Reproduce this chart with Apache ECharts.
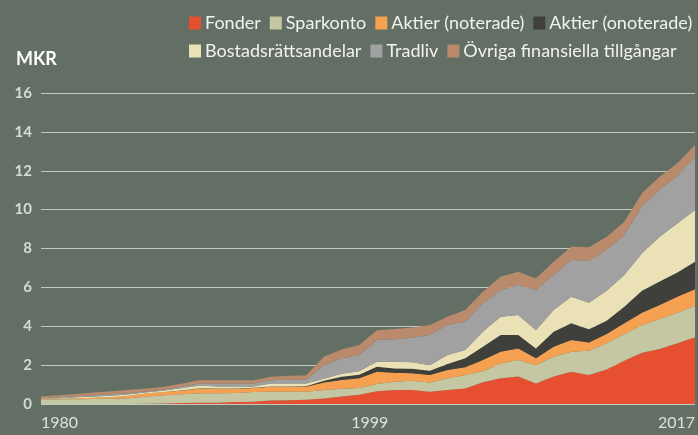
<!DOCTYPE html>
<html>
<head>
<meta charset="utf-8">
<script src="https://cdn.jsdelivr.net/npm/echarts@6/dist/echarts.min.js"></script>
<style>
  html, body { margin: 0; padding: 0; background: #636f64; }
  #chart { width: 698px; height: 435px; }
</style>
</head>
<body>
<div id="chart"></div>
<script>
// years 1980 - 2017
var years = [];
for (var y = 1980; y <= 2017; y++) years.push(String(y));
var labelYears = ['1980', '1999', '2017'];

// MKR, per category (stacked)
var fonder = [0, 0, 0, 0, 0, 0, 0.01, 0.03, 0.05, 0.07, 0.07, 0.10, 0.11, 0.18, 0.19, 0.22, 0.28, 0.38, 0.48, 0.65,
  0.72, 0.72, 0.63, 0.72, 0.80, 1.12, 1.32, 1.41, 1.06, 1.41, 1.66, 1.49, 1.78, 2.23, 2.64, 2.83, 3.12, 3.43];
var sparkonto = [0.22, 0.24, 0.25, 0.26, 0.27, 0.30, 0.37, 0.42, 0.45, 0.48, 0.48, 0.47, 0.51, 0.45, 0.44, 0.41, 0.44, 0.40, 0.34, 0.38,
  0.43, 0.48, 0.48, 0.60, 0.69, 0.56, 0.77, 0.85, 0.94, 1.02, 1.03, 1.25, 1.34, 1.37, 1.42, 1.54, 1.58, 1.61];
var aktierNot = [0.03, 0.03, 0.05, 0.06, 0.08, 0.12, 0.17, 0.17, 0.20, 0.25, 0.24, 0.22, 0.20, 0.26, 0.26, 0.26, 0.38, 0.45, 0.51, 0.63,
  0.46, 0.38, 0.38, 0.43, 0.40, 0.58, 0.60, 0.60, 0.35, 0.52, 0.60, 0.43, 0.48, 0.55, 0.64, 0.72, 0.82, 0.86];
var aktierOnot = [0, 0, 0, 0, 0, 0, 0, 0, 0.01, 0.01, 0.01, 0.01, 0.01, 0.01, 0.01, 0.02, 0.10, 0.17, 0.17, 0.26,
  0.22, 0.23, 0.22, 0.31, 0.46, 0.69, 0.86, 0.69, 0.51, 0.77, 0.86, 0.67, 0.68, 0.85, 1.13, 1.21, 1.24, 1.42];
var bostad = [0.03, 0.03, 0.05, 0.06, 0.07, 0.08, 0.05, 0.08, 0.11, 0.14, 0.10, 0.10, 0.07, 0.15, 0.15, 0.14, 0.10, 0.15, 0.18, 0.26,
  0.35, 0.34, 0.29, 0.46, 0.43, 0.77, 0.94, 1.03, 0.94, 1.12, 1.37, 1.37, 1.55, 1.64, 1.92, 2.30, 2.53, 2.66];
var tradliv = [0.02, 0.05, 0.05, 0.07, 0.08, 0.06, 0.04, 0.05, 0.08, 0.10, 0.15, 0.15, 0.15, 0.17, 0.20, 0.20, 0.70, 0.80, 0.84, 1.11,
  1.15, 1.26, 1.55, 1.54, 1.45, 1.46, 1.37, 1.54, 2.06, 1.80, 1.89, 2.16, 2.10, 2.06, 2.41, 2.44, 2.47, 2.74];
var ovriga = [0.08, 0.10, 0.12, 0.14, 0.16, 0.17, 0.16, 0.14, 0.15, 0.18, 0.17, 0.17, 0.17, 0.18, 0.20, 0.22, 0.43, 0.45, 0.51, 0.51,
  0.53, 0.52, 0.51, 0.43, 0.61, 0.60, 0.69, 0.68, 0.60, 0.68, 0.68, 0.69, 0.68, 0.68, 0.68, 0.65, 0.62, 0.60];

var names = ['Fonder', 'Sparkonto', 'Aktier (noterade)', 'Aktier (onoterade)', 'Bostadsrättsandelar', 'Tradliv', 'Övriga finansiella tillgångar'];
var values = [fonder, sparkonto, aktierNot, aktierOnot, bostad, tradliv, ovriga];
var colors = ['#e65031', '#c4c7a2', '#f6a052', '#3f403c', '#ebe1b6', '#a0a1a0', '#b98a6b'];

var chart = echarts.init(document.getElementById('chart'));

var series = names.map(function (n, i) {
  return {
    name: n,
    type: 'line',
    stack: 'total',
    data: values[i],
    symbol: 'none',
    lineStyle: { width: 0 },
    areaStyle: { color: colors[i], opacity: 1 },
    itemStyle: { color: colors[i] }
  };
});

var legendBase = {
  left: 184,
  itemWidth: 12,
  itemHeight: 13,
  itemGap: 9,
  icon: 'rect',
  textStyle: { color: '#f2f2ee', fontSize: 18, fontFamily: 'Lato', padding: [0, 0, 0, -1] }
};

var option = {
  backgroundColor: '#636f64',
  animation: false,
  title: {
    text: 'MKR',
    left: 11,
    top: 45,
    textStyle: { color: '#ffffff', fontSize: 18, fontWeight: 'bold', fontFamily: 'Lato' }
  },
  legend: [
    Object.assign({}, legendBase, { top: 9, data: names.slice(0, 4) }),
    Object.assign({}, legendBase, { top: 37, data: names.slice(4) })
  ],
  grid: { left: 41, right: 0, top: 93, bottom: 31 },
  xAxis: {
    type: 'category',
    boundaryGap: false,
    data: years,
    axisLine: { show: false },
    axisTick: { show: false },
    axisLabel: {
      interval: function (i, v) { return labelYears.indexOf(v) >= 0; },
      alignMinLabel: 'left',
      alignMaxLabel: 'right',
      margin: 11,
      color: '#dde0dd',
      fontSize: 16,
      fontFamily: 'Lato',
      formatter: function (v) { return v === '1999' ? '{m|' + v + '}' : v; },
      rich: { m: { color: '#dde0dd', fontSize: 16, fontFamily: 'Lato', padding: [0, 14, 0, 0] } }
    }
  },
  yAxis: {
    type: 'value',
    min: 0,
    max: 16,
    interval: 2,
    axisLine: { show: false },
    axisTick: { show: false },
    splitLine: { lineStyle: { color: '#c3c9c3', width: 1 } },
    axisLabel: { color: '#d6dad6', fontSize: 15, fontWeight: 'bold', fontFamily: 'Lato', margin: 9 }
  },
  series: series
};

chart.setOption(option);
</script>
</body>
</html>
